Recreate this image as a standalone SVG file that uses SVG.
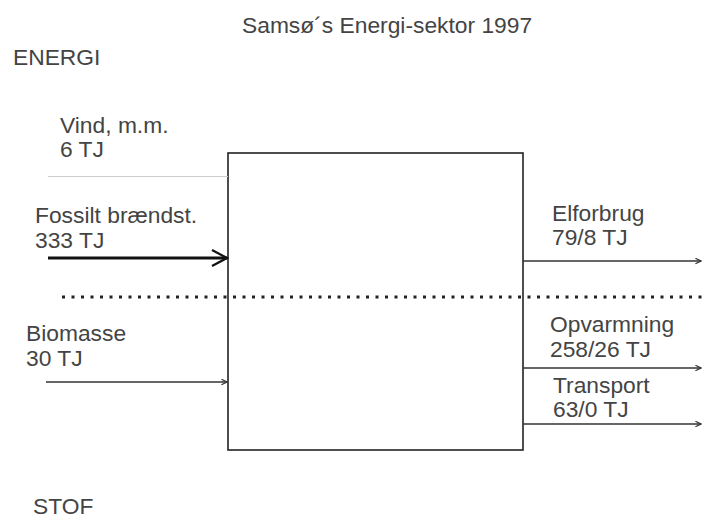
<svg xmlns="http://www.w3.org/2000/svg" width="702" height="519" viewBox="0 0 702 519">
<style>
text{font-family:"Liberation Sans",Arial,sans-serif;font-size:22.8px;fill:#444}
.ln{stroke:#333;stroke-width:1.5;fill:none}
</style>
<defs>
<marker id="ah" viewBox="0 0 10 10" refX="9" refY="5" markerWidth="7" markerHeight="7" markerUnits="userSpaceOnUse" orient="auto"><path d="M1,1 L9,5 L1,9" fill="none" stroke="#333" stroke-width="1.6"/></marker>
<marker id="ahb" viewBox="0 0 20 20" refX="18" refY="10" markerWidth="20" markerHeight="20" markerUnits="userSpaceOnUse" orient="auto"><path d="M3,2 L18,10 L3,18" fill="none" stroke="#111" stroke-width="2.2"/></marker>
</defs>
<rect width="702" height="519" fill="#fff"/>
<text x="242" y="33">Samsø´s Energi-sektor 1997</text>
<text x="13" y="65">ENERGI</text>
<text x="33" y="514">STOF</text>
<g id="sektor"><rect x="228" y="153" width="295" height="297" fill="none" stroke="#222" stroke-width="1.6"/></g>
<g id="vind"><text x="60" y="133">Vind, m.m.</text><text x="60" y="157">6 TJ</text></g>
<g id="fossil"><text x="35" y="223">Fossilt brændst.</text><text x="35" y="248">333 TJ</text></g>
<g id="biomasse"><text x="26" y="341">Biomasse</text><text x="26" y="366">30 TJ</text></g>
<g id="elforbrug"><text x="552" y="221">Elforbrug</text><text x="552" y="245">79/8 TJ</text></g>
<g id="opvarmning"><text x="550" y="332">Opvarmning</text><text x="550" y="357">258/26 TJ</text></g>
<g id="transport"><text x="553" y="393">Transport</text><text x="553" y="417">63/0 TJ</text></g>
<g id="connectors">
<line x1="48" y1="176.5" x2="228" y2="176.5" stroke="#ccc" stroke-width="1.2"/>
<line x1="48" y1="258" x2="227" y2="258" stroke="#111" stroke-width="3" marker-end="url(#ahb)"/>
<line x1="46" y1="382" x2="227" y2="382" class="ln" marker-end="url(#ah)"/>
<line x1="523" y1="261" x2="701" y2="261" class="ln" marker-end="url(#ah)"/>
<line x1="523" y1="368" x2="701" y2="368" class="ln" marker-end="url(#ah)"/>
<line x1="523" y1="424" x2="701" y2="424" class="ln" marker-end="url(#ah)"/>
<line x1="62" y1="297" x2="702" y2="297" stroke="#222" stroke-width="3" stroke-dasharray="3 6.5"/>
</g>
</svg>
